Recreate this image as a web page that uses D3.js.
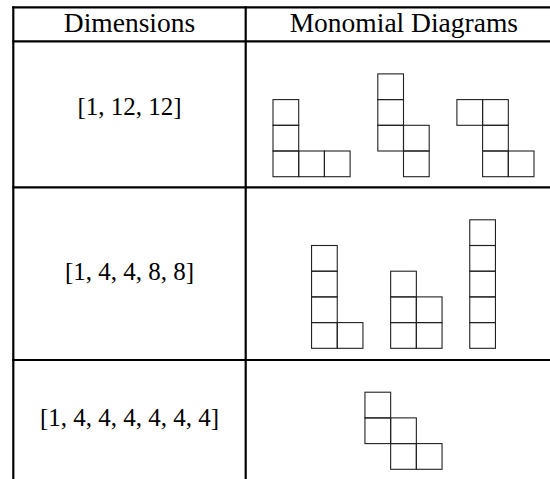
<!DOCTYPE html>
<html>
<head>
<meta charset="utf-8">
<script src="https://cdn.jsdelivr.net/npm/d3@7"></script>
<style>
  html, body { margin: 0; padding: 0; background: #fff; }
  svg { display: block; }
</style>
</head>
<body>
<svg id="chart" width="550" height="479"></svg>
<script>
// ---- data ----
const headers = ["Dimensions", "Monomial Diagrams"];
const dimensions = ["[1, 12, 12]", "[1, 4, 4, 8, 8]", "[1, 4, 4, 4, 4, 4, 4]"];
// each diagram: list of [column, row] cells (row 0 = bottom)
const diagramsRow1 = [
  [[0,0],[1,0],[2,0],[0,1],[0,2]],
  [[0,1],[0,2],[0,3],[1,0],[1,1]],
  [[0,2],[1,0],[1,1],[1,2],[2,0]]
];
const diagramsRow2 = [
  [[0,0],[0,1],[0,2],[0,3],[1,0]],
  [[0,0],[0,1],[0,2],[1,0],[1,1]],
  [[0,0],[0,1],[0,2],[0,3],[0,4]]
];
const diagramsRow3 = [
  [[0,1],[0,2],[1,0],[1,1],[2,0]]
];
const diagramRows = [diagramsRow1, diagramsRow2, diagramsRow3];

// ---- layout ----
const W = 550, H = 479;
const ruleY = [7.3, 41.3, 187.3, 360];   // horizontal rules
const tableBottom = 500;
const colX = [13.3, 245.7, 562];        // left border, separator, (virtual) right
const cell = 25.7, gap = 27.7;
const diagCenterX = 403.5;
const diagBottoms = [176.7, 348.3, 469.3];
const textBaselines = [114.5, 280, 426];

const svg = d3.select("#chart");

// vertical table rules
svg.append("g").selectAll("line").data(colX.slice(0, 2)).join("line")
  .attr("x1", d => d).attr("x2", d => d)
  .attr("y1", ruleY[0] - 1.1).attr("y2", tableBottom)
  .attr("stroke", "#000").attr("stroke-width", 2.2);

// horizontal rules
svg.append("g").selectAll("line").data(ruleY).join("line")
  .attr("x1", colX[0] - 1.1).attr("x2", W + 5)
  .attr("y1", d => d).attr("y2", d => d)
  .attr("stroke", "#000").attr("stroke-width", 2.2);

// headers
svg.append("g").selectAll("text").data(headers).join("text")
  .attr("x", (d, i) => (colX[i] + colX[i + 1]) / 2)
  .attr("y", 31.5)
  .attr("text-anchor", "middle")
  .attr("font-family", "Liberation Serif, serif")
  .attr("font-size", 27.5)
  .attr("fill", "#000")
  .text(d => d);

// dimension labels
svg.append("g").selectAll("text").data(dimensions).join("text")
  .attr("x", (colX[0] + colX[1]) / 2)
  .attr("y", (d, i) => textBaselines[i])
  .attr("text-anchor", "middle")
  .attr("font-family", "Liberation Serif, serif")
  .attr("font-size", 25)
  .attr("fill", "#000")
  .text(d => d);

// monomial diagrams
diagramRows.forEach((diagrams, ri) => {
  const widths = diagrams.map(cells => d3.max(cells, c => c[0]) + 1);
  const totalUnits = d3.sum(widths);
  const totalW = totalUnits * cell + (diagrams.length - 1) * gap;
  let x0 = diagCenterX - totalW / 2;
  diagrams.forEach((cells, di) => {
    const nCols = widths[di];
    const nRows = d3.max(cells, c => c[1]) + 1;
    const x = d3.scaleLinear().domain([0, nCols]).range([x0, x0 + nCols * cell]);
    const y = d3.scaleLinear().domain([0, nRows]).range([diagBottoms[ri], diagBottoms[ri] - nRows * cell]);
    svg.append("g").selectAll("rect").data(cells).join("rect")
      .attr("x", d => x(d[0]))
      .attr("y", d => y(d[1] + 1))
      .attr("width", d => x(d[0] + 1) - x(d[0]))
      .attr("height", d => y(d[1]) - y(d[1] + 1))
      .attr("fill", "none")
      .attr("stroke", "#222")
      .attr("stroke-width", 1.1);
    x0 += nCols * cell + gap;
  });
});
</script>
</body>
</html>
